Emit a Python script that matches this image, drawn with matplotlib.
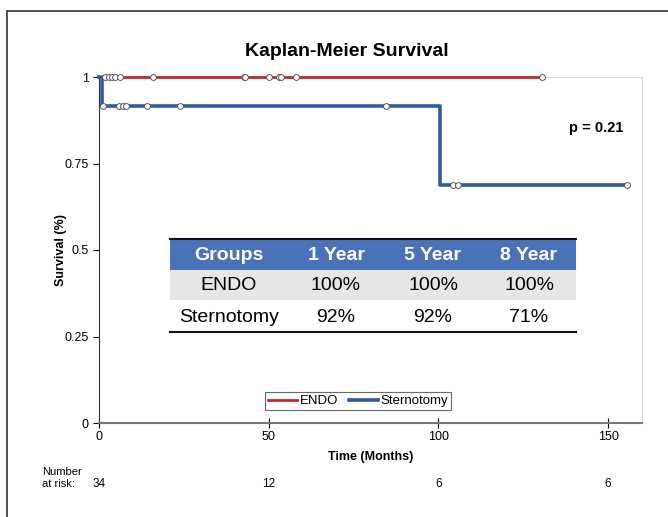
import numpy as np
import matplotlib
matplotlib.use('Agg')
import matplotlib.pyplot as plt
from matplotlib.patches import Rectangle

# survival curves (step points) and censor marks
endo_t = [0, 130.4]
endo_s = [1.0, 1.0]
endo_cens_t = [1.8, 2.8, 3.7, 4.7, 6.2, 16, 42.6, 43.1, 50, 53.1, 53.7, 58, 130.4]

stern_t = [0, 1.0, 100.6, 155.5]
stern_s = [1.0, 0.917, 0.688, 0.688]
stern_cens_t = [1.1, 6, 7, 8.1, 14, 24, 84.7, 104.4, 105.9, 155.5]

risk_t = [0, 50, 100, 150]
risk_n = [34, 12, 6, 6]

tab_cols = ['Groups', '1 Year', '5 Year', '8 Year']
tab_endo = ['ENDO', '100%', '100%', '100%']
tab_stern = ['Sternotomy', '92%', '92%', '71%']


def surv_at(t, ts, ss):
   idx = np.searchsorted(ts, t, side='right') - 1
   return np.array(ss)[idx]


def main():
   plt.rcParams['font.family'] = ['Liberation Sans', 'DejaVu Sans']
   red = '#C4262E'
   blue = '#2F5C9E'

   fig = plt.figure(figsize=(6.68, 5.17), dpi=100)
   # outer frame, cut off on right and bottom
   fig.patches.append(Rectangle((7/668, -0.1), 1.2, 1 - 11/517 + 0.1,
                                transform=fig.transFigure, fill=False,
                                edgecolor='#333333', lw=1.2))

   ax = fig.add_axes([99/668, 1 - 423/517, (642 - 99)/668, (423 - 77)/517])
   ax.set_xlim(0, 160)
   ax.set_ylim(0, 1)

   ax.step(endo_t, endo_s, where='post', color=red, lw=2, label='ENDO', zorder=3,
           clip_on=False)
   ax.step(stern_t, stern_s, where='post', color=blue, lw=2.6, label='Sternotomy', zorder=3,
           clip_on=False)
   ax.plot(endo_cens_t, surv_at(endo_cens_t, endo_t, endo_s), 'o', ms=4.2,
           mfc='white', mec='#555555', mew=0.7, zorder=4, clip_on=False)
   ax.plot(stern_cens_t, surv_at(stern_cens_t, stern_t, stern_s), 'o', ms=4.2,
           mfc='white', mec='#555555', mew=0.7, zorder=4, clip_on=False)

   for s in ['top', 'right']:
      ax.spines[s].set_color('#d9d9d9')
   ax.spines['left'].set_color('#333333')
   ax.spines['bottom'].set_color('#777777')
   ax.spines['bottom'].set_linewidth(1.5)

   ax.set_xticks([0, 50, 100, 150])
   ax.set_yticks([0, 0.25, 0.5, 0.75, 1])
   ax.set_yticklabels(['0', '0.25', '0.5', '0.75', '1'])
   ax.tick_params(axis='x', direction='inout', length=7, labelsize=9, pad=2)
   ax.tick_params(axis='y', direction='out', length=4, labelsize=9)
   ax.set_xlabel('Time (Months)', fontsize=9, fontweight='bold', labelpad=6)
   ax.set_ylabel('Survival (%)', fontsize=9, fontweight='bold', labelpad=-2)

   fig.text(347/668, 1 - 52/517, 'Kaplan-Meier Survival', ha='center', va='center',
            fontsize=14, fontweight='bold')
   fig.text(596/668, 1 - 128/517, 'p = 0.21', ha='center', va='center',
            fontsize=10.5, fontweight='bold')

   leg = ax.legend(loc='center', bbox_to_anchor=((358 - 99)/543, (423 - 401)/346),
                   ncol=2, fontsize=9.5, frameon=True, fancybox=False,
                   handlelength=2.2, handletextpad=0.2, columnspacing=0.8,
                   borderpad=0.25, edgecolor='#444444')
   leg.get_frame().set_linewidth(0.8)

   # summary table drawn in figure pixels
   x0, x1 = 170/668, 576/668
   rows_y = [(240, 270), (270, 300), (300, 332)]
   fills = ['#4A72B8', '#E6E6E6', 'white']
   for (ya, yb), fc in zip(rows_y, fills):
      fig.patches.append(Rectangle((x0, 1 - yb/517), x1 - x0, (yb - ya)/517,
                                   transform=fig.transFigure, facecolor=fc,
                                   edgecolor='none', zorder=5))
   fig.add_artist(plt.Line2D([x0, x1], [1 - 239/517] * 2, color='#111111', lw=1.5, zorder=6))
   fig.add_artist(plt.Line2D([x0, x1], [1 - 332/517] * 2, color='#111111', lw=1.5, zorder=6))
   col_x = [229, 336, 433, 529]
   for cx, h, e, s in zip(col_x, tab_cols, tab_endo, tab_stern):
      fig.text(cx/668, 1 - 255/517, h, ha='center', va='center', fontsize=14,
               fontweight='bold', color='white', zorder=7)
      fig.text(cx/668, 1 - 286/517, e, ha='center', va='center', fontsize=14,
               color='black', zorder=7)
      fig.text(cx/668, 1 - 318/517, s, ha='center', va='center', fontsize=14,
               color='black', zorder=7)

   # number at risk
   fig.text(42/668, 1 - 478/517, 'Number\nat risk:', ha='left', va='center',
            fontsize=8, linespacing=1.3)
   for t, n in zip(risk_t, risk_n):
      xf = fig.transFigure.inverted().transform(ax.transData.transform((t, 0)))[0]
      fig.text(xf, 1 - 484/517, str(n), ha='center', va='center', fontsize=8.5)

   fig.savefig('out.png', dpi=100)


if __name__ == '__main__':
   main()
